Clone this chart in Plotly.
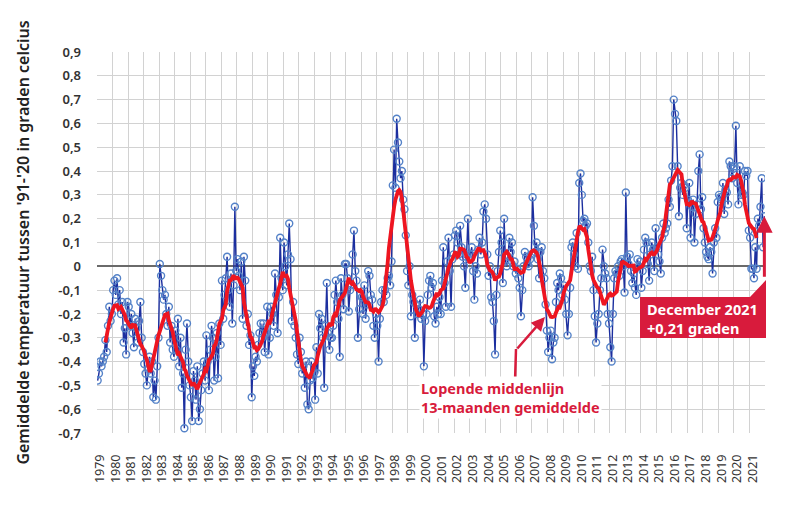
import numpy as np
import pandas as pd
import plotly.graph_objects as go

# Monthly anomalies (deg C, vs 1991-2020)
anom_1979_1989 = [
    -0.48, -0.45, -0.40, -0.42, -0.40, -0.38, -0.31, -0.36, -0.25, -0.17, -0.23, -0.20,
    -0.10, -0.06, -0.12, -0.05, -0.16, -0.10, -0.20, -0.15, -0.32, -0.26, -0.37, -0.15,
    -0.17, -0.25, -0.20, -0.28, -0.34, -0.22, -0.26, -0.32, -0.23, -0.15, -0.30, -0.36,
    -0.41, -0.45, -0.50, -0.43, -0.38, -0.45, -0.40, -0.55, -0.48, -0.56, -0.42, -0.30,
    0.01, -0.04, -0.10, -0.14, -0.12, -0.20, -0.25, -0.17, -0.32, -0.25, -0.35, -0.38,
    -0.27, -0.35, -0.22, -0.42, -0.30, -0.51, -0.45, -0.68, -0.35, -0.24, -0.40, -0.50,
    -0.55, -0.65, -0.44, -0.48, -0.56, -0.42, -0.65, -0.60, -0.52, -0.45, -0.40, -0.48,
    -0.29, -0.40, -0.52, -0.35, -0.25, -0.30, -0.48, -0.38, -0.28, -0.47, -0.24, -0.33,
    -0.06, -0.22, -0.12, -0.05, 0.04, -0.10, -0.17, -0.03, -0.24, -0.08, 0.25, -0.02,
    0.03, -0.04, -0.10, 0.02, -0.22, 0.04, -0.06, -0.25, -0.20, -0.33, -0.29, -0.55,
    -0.42, -0.46, -0.38, -0.40, -0.33, -0.28, -0.24, -0.30, -0.24, -0.36, -0.28, -0.17,
]
anom_1990_1999 = [
    -0.37, -0.30, -0.17, -0.20, -0.25, -0.03, -0.12, -0.28, -0.13, 0.12, -0.05, -0.10,
    0.10, 0.00, -0.08, 0.05, 0.18, 0.03, -0.23, -0.15, -0.25, -0.30, -0.37, -0.41,
    -0.30, -0.36, -0.45, -0.42, -0.51, -0.40, -0.58, -0.60, -0.48, -0.40, -0.47, -0.45,
    -0.56, -0.34, -0.45, -0.20, -0.26, -0.22, -0.30, -0.51, -0.25, -0.07, -0.28, -0.35,
    -0.30, -0.30, -0.25, -0.12, -0.06, -0.15, -0.22, -0.38, -0.05, -0.12, -0.18, 0.01,
    0.01, -0.05, -0.19, -0.10, -0.08, 0.05, 0.15, -0.02, -0.06, -0.30, -0.18, -0.12,
    -0.13, -0.20, -0.08, -0.22, -0.16, -0.02, -0.04, -0.12, -0.14, -0.25, -0.30, -0.20,
    -0.25, -0.40, -0.22, -0.15, -0.10, -0.15, -0.10, -0.12, -0.05, -0.04, -0.08, 0.02,
    0.34, 0.49, 0.33, 0.62, 0.52, 0.44, 0.37, 0.40, 0.28, 0.24, 0.13, -0.02,
    -0.08, 0.00, -0.21, -0.12, -0.15, -0.30, -0.16, -0.20, -0.18, -0.14, -0.22, -0.20,
]
anom_2000_2009 = [
    -0.42, -0.23, -0.20, -0.12, -0.06, -0.04, -0.09, -0.07, -0.21, -0.24, -0.17, -0.20,
    -0.13, -0.20, -0.06, 0.08, -0.07, -0.17, 0.02, 0.12, -0.02, -0.17, 0.03, 0.05,
    0.13, 0.15, 0.10, 0.05, 0.17, 0.08, 0.04, 0.00, -0.09, 0.05, 0.20, 0.03,
    0.05, 0.08, -0.02, -0.14, 0.00, -0.03, 0.07, 0.12, 0.05, 0.10, 0.23, 0.26,
    0.20, 0.05, -0.04, 0.00, -0.13, -0.15, -0.23, -0.37, -0.12, -0.02, 0.06, 0.15,
    0.10, -0.07, 0.20, 0.02, 0.00, 0.04, 0.12, 0.06, 0.10, 0.00, 0.02, -0.03,
    -0.01, -0.05, -0.09, -0.21, -0.10, 0.00, 0.06, 0.04, 0.01, 0.00, 0.03, 0.05,
    0.29, 0.17, 0.06, 0.10, 0.03, -0.05, 0.06, 0.08, -0.02, -0.05, -0.16, -0.27,
    -0.36, -0.30, -0.27, -0.39, -0.32, -0.30, -0.15, -0.07, -0.10, -0.03, -0.05, -0.12,
    -0.08, -0.14, -0.20, -0.29, -0.20, -0.09, 0.08, 0.10, 0.05, 0.00, 0.14, -0.01,
]
anom_2010_2021 = [
    0.35, 0.39, 0.30, 0.19, 0.20, 0.17, 0.18, 0.10, 0.00, -0.02, 0.04, -0.10,
    -0.21, -0.32, -0.24, -0.20, -0.10, -0.05, 0.07, 0.00, -0.03, -0.05, -0.20, -0.24,
    -0.34, -0.40, -0.20, -0.05, -0.02, -0.03, 0.00, -0.04, 0.02, 0.03, 0.00, -0.11,
    0.31, 0.04, 0.01, 0.05, -0.02, -0.07, -0.03, -0.09, -0.12, 0.03, 0.00, 0.02,
    -0.09, -0.02, 0.07, 0.12, 0.10, 0.01, -0.06, 0.05, 0.10, 0.07, -0.02, 0.16,
    0.08, 0.05, 0.02, -0.03, 0.12, 0.18, 0.14, 0.16, 0.18, 0.28, 0.25, 0.36,
    0.42, 0.70, 0.64, 0.61, 0.42, 0.21, 0.33, 0.35, 0.30, 0.34, 0.33, 0.16,
    0.28, 0.35, 0.12, 0.25, 0.28, 0.10, 0.22, 0.26, 0.40, 0.47, 0.24, 0.29,
    0.16, 0.10, 0.06, 0.04, 0.03, 0.08, 0.06, -0.03, 0.10, 0.16, 0.12, 0.27,
    0.30, 0.29, 0.28, 0.35, 0.22, 0.32, 0.31, 0.26, 0.44, 0.42, 0.37, 0.41,
    0.42, 0.59, 0.35, 0.26, 0.42, 0.30, 0.31, 0.30, 0.40, 0.38, 0.40, 0.15,
    0.12, -0.01, -0.01, -0.05, 0.08, -0.01, 0.20, 0.17, 0.25, 0.37, 0.08, 0.21,
]

first_year = 1979
last_year = 2021
year_labels = [str(y) for y in range(first_year, last_year + 1)]
y_tick_values = [-0.7, -0.6, -0.5, -0.4, -0.3, -0.2, -0.1, 0.0, 0.1, 0.2, 0.3, 0.4, 0.5, 0.6, 0.7, 0.8, 0.9]
y_tick_labels = ["-0,7", "-0,6", "-0,5", "-0,4", "-0,3", "-0,2", "-0,1", "0",
                 "0,1", "0,2", "0,3", "0,4", "0,5", "0,6", "0,7", "0,8", "0,9"]
title_y = "Gemiddelde temperatuur tussen '91-'20 in graden celcius"
label_mean = "Lopende middenlijn<br>13-maanden gemiddelde"
label_last = "December 2021<br>+0,21 graden"
last_value = 0.21

anom = np.array(anom_1979_1989 + anom_1990_1999 + anom_2000_2009 + anom_2010_2021)
n = len(anom)
t = first_year + (np.arange(n) + 0.5) / 12.0
running = pd.Series(anom).rolling(13, center=True).mean().to_numpy()

RED = "#d81b3c"
FONT = "Noto Sans"

W, H = 800, 520
PAGE_OFF = 8                      # default body margin of the page
# plot area in page pixels
PL, PR, PT, PB = 97, 765, 52, 433
PW, PH = PR - PL, PB - PT


def px(xp):
    return (xp - PL) / PW


def py(yp):
    return (PB - yp) / PH


fig = go.Figure()
fig.add_trace(go.Scatter(
    x=t, y=anom, mode="lines+markers",
    line=dict(color="#1c2f9f", width=1.4),
    marker=dict(symbol="circle-open", size=7, color="#5482c8", line=dict(width=1.4)),
    hoverinfo="skip", showlegend=False,
))
fig.add_trace(go.Scatter(
    x=t, y=running, mode="lines",
    line=dict(color="#ee1520", width=3.8),
    hoverinfo="skip", showlegend=False,
))

# label for running mean
fig.add_shape(type="line", xref="paper", yref="paper",
              x0=px(515), y0=py(382), x1=px(516), y1=py(349),
              line=dict(color=RED, width=2.5))
fig.add_annotation(xref="paper", yref="paper", x=px(545), y=py(317),
                   ax=-29, ay=33, text="", showarrow=True,
                   arrowhead=2, arrowsize=1.1, arrowwidth=2.5, arrowcolor=RED)
fig.add_annotation(xref="paper", yref="paper", x=px(419), y=py(397),
                   xanchor="left", yanchor="middle", align="left",
                   text=label_mean, showarrow=False, bgcolor="white",
                   font=dict(family=FONT, size=14.5, color=RED, weight=700))

# December 2021 box
x0, x1, xc = px(640), px(766), px(750)
y0, y1, yc = py(338), py(297), py(280)
fig.add_shape(type="path", xref="paper", yref="paper",
              path=f"M {x0},{y0} L {x0},{y1} L {xc},{y1} L {x1},{yc} L {x1},{y0} Z",
              fillcolor=RED, line=dict(width=0))
fig.add_annotation(x=last_year + 0.96, y=last_value, xref="x", yref="y",
                   ax=0, ay=62, text="", showarrow=True,
                   arrowhead=2, arrowsize=1.1, arrowwidth=3, arrowcolor=RED)
fig.add_annotation(xref="paper", yref="paper", x=px(645), y=py(318),
                   xanchor="left", yanchor="middle", align="left",
                   text=label_last, showarrow=False,
                   font=dict(family=FONT, size=14.5, color="white", weight=700))

fig.update_layout(
    width=W, height=H,
    margin=dict(l=PL - PAGE_OFF, r=W + PAGE_OFF - PR, t=PT - PAGE_OFF, b=H + PAGE_OFF - PB),
    paper_bgcolor="white", plot_bgcolor="white",
    font=dict(family=FONT, color="#333"),
    showlegend=False,
    xaxis=dict(
        range=[first_year, last_year + 1],
        tickmode="array",
        tickvals=[y + 0.2 for y in range(first_year, last_year + 1)],
        ticktext=year_labels,
        tickangle=-90,
        tickfont=dict(size=12.5, color="#333"),
        ticks="", showgrid=False, zeroline=False,
        ticklabelstandoff=18,
        minor=dict(tick0=first_year, dtick=1, showgrid=True,
                   gridcolor="#d2d2d2", gridwidth=1),
        showline=False,
    ),
    yaxis=dict(
        range=[-0.7, 0.9],
        tickmode="array",
        tickvals=y_tick_values,
        ticktext=y_tick_labels,
        tickfont=dict(size=13, color="#333", weight=600),
        showgrid=True, gridcolor="#d2d2d2", gridwidth=1,
        zeroline=True, zerolinecolor="#6a6a6a", zerolinewidth=1.5,
        ticks="", ticklabelstandoff=15,
        title=dict(text=title_y, standoff=24,
                   font=dict(size=16, color="#222", weight=600)),
    ),
)

fig.write_html("out.html")
